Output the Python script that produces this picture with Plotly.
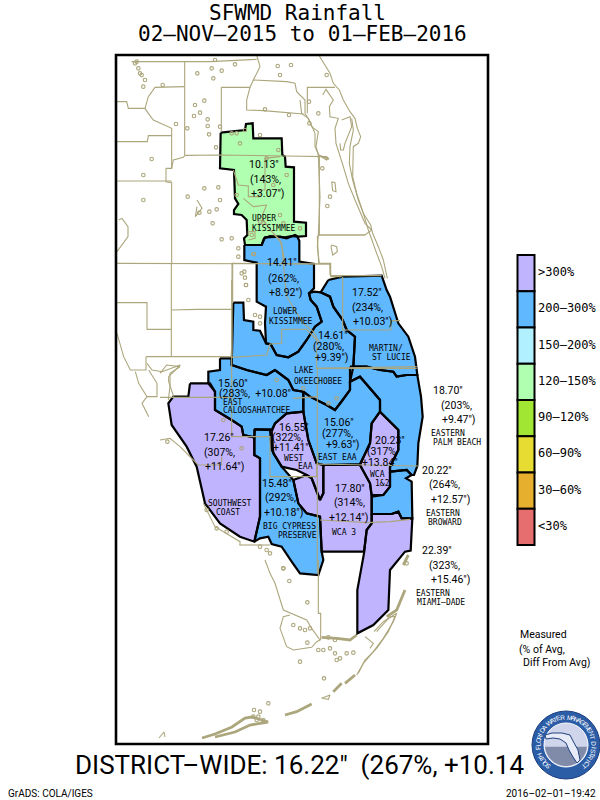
import math
import plotly.graph_objects as go

# ---------- colours ----------
PURPLE = "#c0b4ff"; BLUE = "#60b8ff"; GREEN = "#b0ffb0"; TAN = "#aca67c"
MONO = "DejaVu Sans Mono"; SANS = "Roboto"

# ---------- legend ----------
legend_labels = ["&gt;300%", "200–300%", "150–200%", "120–150%", "90–120%", "60–90%", "30–60%", "&lt;30%"]
legend_colors = [PURPLE, BLUE, "#b0f0ff", GREEN, "#a0e632", "#e6dc32", "#e6af2d", "#e66e6e"]

# ---------- region polygons (crop-relative units) ----------
def c1(p): return [(160 + x / 3, 110 + y / 3) for x, y in p]
def c2(p): return [(160 + x / 3, 360 + y / 3) for x, y in p]
def c5(p): return [(110 + x / 3, 50 + y / 3) for x, y in p]
def c6(p): return [(300 + x / 3, 50 + y / 3) for x, y in p]
def c7(p): return [(112 + x / 3, 200 + y / 3) for x, y in p]
def c8(p): return [(250 + x / 3, 560 + y / 3) for x, y in p]

upper_kissimmee = c5([(332,248),(405,240),(408,222),(428,220),(430,265),(515,265),(517,315),(525,320),(527,350),(552,352),(552,515),(588,518),(588,558),(565,560),(555,555),(530,565),(510,560),(490,560),(465,562),(455,585),(430,585),(405,585),(402,565),(412,555),(410,510),(395,495),(372,492),(372,480),(385,462),(375,445),(372,360),(330,355)])
lower_kissimmee = c1([(253,405),(305,405),(312,385),(330,378),(350,380),(375,382),(395,378),(412,380),(418,392),(418,455),(462,462),(462,535),(447,550),(452,570),(470,590),(485,635),(465,650),(440,690),(415,725),(385,742),(350,735),(332,703),(318,700),(315,640),(318,590),(290,575),(290,458),(253,450)])
lake_okeechobee = c1([(220,578),(250,578),(252,630),(280,635),(280,660),(300,662),(318,700),(332,703),(350,735),(385,742),(415,725),(440,690),(465,650),(485,635),(470,590),(452,570),(447,550),(462,545),(482,547),(510,560),(520,590),(548,630),(560,660),(585,680),(580,770),(572,800),(570,815),(570,840),(545,875),(525,900),(500,885),(450,860),(430,845),(400,840),(385,810),(345,780),(320,795),(260,780),(215,765)])
martin = c1([(505,510),(548,500),(665,497),(680,540),(690,560),(715,640),(745,680),(765,740),(772,795),(740,795),(710,800),(700,785),(660,780),(620,770),(580,770),(585,680),(560,660),(548,630),(520,590),(510,560),(482,547)])
caloosahatchee = c2([(180,-5),(215,-5),(215,15),(260,30),(320,45),(345,30),(385,60),(400,90),(430,95),(430,155),(380,160),(345,190),(335,210),(285,208),(283,232),(250,225),(245,200),(215,180),(165,150),(165,95),(145,70),(145,35),(180,30)])
east_eaa = c2([(430,95),(450,110),(500,135),(525,150),(545,125),(570,90),(570,65),(600,50),(660,120),(660,155),(635,190),(630,250),(600,312),(490,315),(470,310),(445,240),(430,155)])
palm_beach = c2([(570,20),(620,20),(660,30),(700,35),(710,50),(740,45),(772,45),(783,110),(788,170),(775,250),(772,318),(762,345),(755,345),(740,330),(690,335),(690,320),(715,270),(715,210),(660,155),(660,120),(600,50),(570,65)])
broward = c2([(690,335),(740,330),(755,345),(738,355),(755,365),(757,475),(725,475),(715,455),(695,462),(635,462),(635,410),(670,405),(690,380)])
big_cypress = c2([(283,208),(330,208),(335,270),(365,320),(400,360),(415,430),(440,460),(480,470),(485,575),(490,600),(475,645),(420,640),(395,605),(365,560),(335,552),(325,530),(300,535),(283,545),(300,470),(300,295),(283,285)])
southwest_coast = c2([(90,70),(150,70),(165,95),(165,150),(215,180),(245,200),(250,225),(283,232),(283,285),(300,295),(300,470),(283,545),(240,530),(180,490),(135,430),(110,320),(80,260),(35,195),(25,130),(40,110),(85,110)])
west_eaa = c2([(335,215),(345,190),(380,160),(430,155),(445,240),(470,310),(490,315),(490,400),(480,420),(470,395),(455,355),(440,345),(410,330),(365,320),(340,280)])
wca3 = c2([(400,360),(440,345),(455,355),(470,395),(480,420),(490,400),(490,315),(600,315),(630,370),(635,410),(635,490),(620,510),(612,575),(485,575),(480,470),(440,460),(415,430)])
wca12 = c2([(660,155),(715,210),(715,270),(690,320),(690,380),(670,405),(635,405),(630,370),(600,315),(630,250),(635,190)])
miami_dade = c2([(635,462),(695,462),(715,455),(725,475),(757,475),(752,572),(735,575),(690,630),(685,750),(640,795),(592,820),(592,690),(612,580),(620,510),(635,490)])

regions = [
    (upper_kissimmee, GREEN), (lower_kissimmee, BLUE), (lake_okeechobee, BLUE), (martin, BLUE),
    (caloosahatchee, BLUE), (east_eaa, BLUE), (palm_beach, BLUE), (broward, BLUE), (big_cypress, BLUE),
    (southwest_coast, PURPLE), (west_eaa, PURPLE), (wca3, PURPLE), (wca12, PURPLE), (miami_dade, PURPLE),
]

# ---------- county lines / coast ----------
thin_lines = (
    [c5(l) for l in [
        [(168,355),(185,355),(190,330),(220,322),(225,316),(330,315),(525,318),(628,318),(650,320),(657,328),(630,318)],
        [(168,355),(168,395),(185,398),(185,640)],
        [(18,640),(660,642),(660,675)],
        [(628,318),(628,555),(622,560),(626,640)],
        [(628,555),(765,555)],
        [(224,35),(224,315)],
        [(334,112),(334,245)],
        [(334,112),(420,112),(430,90),(530,95),(555,100),(560,125),(585,150),(585,190),(600,215),(615,250),(615,290),(628,318)],
        [(420,112),(410,150),(410,180),(460,182),(580,192)],
        [(18,155),(50,155),(55,175),(105,175),(115,190),(130,210),(185,235),(185,355)],
        [(18,275),(112,275),(115,257),(185,257)],
        [(18,393),(185,393)],
        [(65,35),(224,35),(300,35),(440,28)],
        [(105,175),(115,140),(135,112),(224,110)],
        [(440,15),(450,50),(430,90)],
        [(370,360),(385,405),(415,408),(415,440),(450,440),(450,420),(465,420),(465,325),(510,320)],
        [(400,445),(430,470),(470,465),(455,500),(480,540),(510,570),(520,610),(525,640)],
        [(415,555),(415,545),(435,545),(435,565),(415,570)],
    ]]
    + [c6(l) for l in [
        [(58,18),(75,45),(90,70),(100,100),(118,120),(130,150),(150,185),(165,205),(172,235),(182,260),(175,280),(160,290),(158,380),(170,430),(190,490),(212,525),(218,550),(235,590),(250,630),(262,685)],
        [(68,135),(78,118),(100,150),(88,170),(90,200),(115,205),(105,235),(108,280),(130,350),(145,400),(165,450),(195,520),(215,540)],
        [(125,210),(150,200),(155,230),(135,280),(130,300),(122,300),(120,280)],
        [(155,205),(160,240),(150,290),(148,340),(158,390),(175,450),(190,490),(205,540),(230,610),(245,650),(255,685)],
        [(22,190),(22,112),(105,112)],
        [(0,150),(5,190),(25,205),(35,230),(55,245),(48,290),(55,315),(85,325),(80,330),(55,315)],
        [(55,315),(60,440),(55,555),(52,590),(58,640),(92,640),(92,680),(125,680)],
        [(55,555),(195,555),(215,540)],
        [(95,395),(105,398),(108,425),(98,422),(95,395)],
        [(95,585),(110,590),(112,605),(98,615),(93,590),(95,585)],
    ]]
    + [c7(l) for l in [
        [(178,188),(178,470)],
        [(178,330),(255,328),(360,328)],
        [(12,308),(105,308),(105,388),(178,388)],
        [(360,188),(360,470)],
        [(102,470),(360,470)],
        [(102,470),(102,510),(55,510),(35,470),(15,400)],
        [(105,490),(120,510),(150,515),(205,495),(170,530),(170,545),(185,590)],
        [(70,515),(80,550),(105,590),(135,590),(135,550),(110,510)],
        [(20,60),(30,55),(48,80),(48,110),(15,155)],
        [(105,590),(90,610),(110,650)],
        [(255,0),(270,25),(250,50),(255,20)],
    ]]
    + [c1(l) for l in [
        [(217,460),(460,460),(510,462),(512,497),(665,497)],
        [(218,460),(218,578)],
        [(548,500),(548,660),(692,660),(695,632),(720,632)],
        [(365,658),(440,658)],
        [(365,658),(365,700),(330,702),(320,735),(215,742)],
        [(440,658),(470,690),(470,775),(770,770)],
        [(340,370),(365,400),(370,460),(380,560),(430,640),(460,665),(480,700)],
    ]]
    + [c2(l) for l in [
        [(472,25),(472,640)],
        [(215,-240),(215,230),(330,230),(330,350),(470,350),(470,312),(775,318)],
        [(480,480),(625,488),(690,485),(750,478)],
        [(472,25),(770,25)],
        [(400,115),(472,110)],
        [(0,112),(215,112)],
        [(185,290),(185,315),(115,315)],
        [(238,555),(330,555)],
        [(0,40),(20,15),(60,20),(30,40),(30,80),(25,120)],
        [(0,240),(30,235),(60,260),(115,315)],
        [(130,430),(165,500),(240,545),(240,555)],
    ]]
    + [c8(l) for l in [
        [(45,0),(60,40),(75,70),(85,100),(100,150),(170,180),(185,205),(210,240),(200,245),(185,262),(130,270),(110,260),(90,205),(100,170),(120,165)],
        [(205,0),(205,160),(212,160),(212,240)],
        [(345,230),(370,250),(360,265)],
        [(372,215),(400,185),(440,160),(430,185),(400,235),(370,275),(340,310),(320,345)],
        [(380,215),(420,170),(435,170),(415,215),(380,265),(345,300),(325,340)],
        [(215,415),(240,405),(235,418),(215,415)],
    ]]
    + [[(159,738),(164,732),(165,737)]]
)
thick_lines = (
    [c8(l) for l in [
        [(215,232),(260,235),(300,240),(320,225)],
        [(285,370),(315,345)],
        [(250,395),(275,370)],
        [(105,465),(140,455),(185,432)],
        [(410,170),(440,150),(465,90)],
    ]]
    + [[(202,738),(215,734),(232,727),(245,718),(252,717),(268,722),(250,725),(235,732),(215,737)]]
    + [c2([(730,615),(745,585)])]
)

# ---------- small lakes and islands ----------
lakes = (
    c5([(75,40),(85,55),(95,75),(105,90),(100,110),(80,35),(90,70),(158,105),(262,70),(305,55),(310,85),(335,62),(375,43),(315,30),(503,48),(543,45),(510,75),(255,165),(283,152),(270,188),(252,198),(293,208),(293,228),(232,235),(297,253),(330,230),(198,222),(125,327),(100,375),(100,450),(233,440),(283,415),(325,412),(330,450),(268,488),(298,485),(320,478),(308,520),(335,568),(365,565),(385,595),(385,620),(432,612),(403,665),(408,705),(405,683),(380,250),(405,240),(390,280),(450,255),(505,300),(318,292),(465,178),(537,195),(598,220),(625,190),(637,355),(660,440),(652,468),(597,155),(650,75),(365,250),(530,375),(490,405),(380,435),(425,555),(510,495),(520,520),(460,520),(450,515),(570,535),(470,325)])
    + c1([(258,525),(265,570),(285,615),(300,640),(300,620),(280,432),(245,490)])
    + c2([(350,60),(530,115),(505,130),(430,85),(22,245),(170,505),(200,515),(300,560),(320,570),(330,580),(370,625),(190,180),(245,265),(140,450)])
    + c8([(100,25),(118,63),(172,127),(150,305),(222,355),(260,300),(270,295),(290,280),(310,278),(205,270),(220,270),(240,265),(255,280),(150,205),(165,210),(180,205),(130,195),(172,248),(235,232),(255,240),(12,450),(25,470),(40,480),(10,470),(55,430),(470,10),(20,480),(30,455)])
)

# ---------- text labels ----------
value_labels = [
    (264,164,'10.13"'),(265,179,'(143%,'),(267,193,'+3.07")'),
    (282,262,'14.41"'),(283,278,'(262%,'),(285,292,'+8.92")'),
    (367,292,'17.52"'),(367,307,'(234%,'),(372,321,'+10.03")'),
    (333,335,'14.61"'),(328,346,'(280%,'),(331,357,'+9.39")'),
    (233,383,'15.60"'),(255,393,'(283%,  +10.08"'),
    (294,427,'16.55"'),(287,437,'(322%,'),(291,447,'+11.41"'),
    (339,422,'15.06"'),(337,433,'(277%,'),(342,444,'+9.63")'),
    (390,440,'20.23"'),(381,451,'(317%'),(380,462,'+13.84"'),
    (219,437,'17.26"'),(219,452,'(307%,'),(224,466,'+11.64")'),
    (277,483,'15.48"'),(280,497,'(292%,'),(283,512,'+10.18")'),
    (350,488,'17.80"'),(349,502,'(314%,'),(348,517,'+12.14")'),
    (448,390,'18.70"'),(456,405,'(203%,'),(458,419,'+9.47")'),
    (437,470,'20.22"'),(444,484,'(264%,'),(450,499,'+12.57")'),
    (437,550,'22.39"'),(444,565,'(323%,'),(450,579,'+15.46")'),
]
name_labels = [
    (264,218,'UPPER'),(274,228,'KISSIMMEE'),(285,311,'LOWER'),(291,321,'KISSIMMEE'),
    (386,348,'MARTIN/'),(391,357,'ST LUCIE'),(303,370,'LAKE'),(318,381,'OKEECHOBEE'),
    (232,402,'EAST'),(257,410,'CALOOSAHATCHEE'),(293,458,'WEST'),(305,466,'EAA'),
    (337,457,'EAST EAA'),(377,474,'WCA'),(382,483,'1&amp;2'),(230,503,'SOUTHWEST'),(228,512,'COAST'),
    (289,526,'BIG CYPRESS'),(297,535,'PRESERVE'),(344,532,'WCA 3'),
    (448,433,'EASTERN'),(457,442,'PALM BEACH'),(443,513,'EASTERN'),(445,522,'BROWARD'),
    (433,593,'EASTERN'),(441,602,'MIAMI–DADE'),
]
note_labels = [(519,634,'Measured'),(518,649,'(% of Avg,'),(522,662,'Diff From Avg)')]
title_lines = [(297.5,13,'SFWMD Rainfall'),(302.5,34,'02–NOV–2015 to 01–FEB–2016')]
district_text = 'DISTRICT–WIDE: 16.22"  (267%, +10.14'
credit_text = 'GrADS: COLA/IGES'
stamp_text = '2016–02–01–19:42'
seal_text = 'SOUTH FLORIDA WATER MANAGEMENT DISTRICT'
florida_outline = [(545,735),(552,733),(562,733),(570,735),(573,741),(578,750),(580,760),(577,763),(573,757),(569,750),(566,743),(560,739),(553,738),(546,739)]

# ---------- figure ----------
fig = go.Figure()

def add_path(pts, **kw):
    fig.add_trace(go.Scatter(x=[p[0] for p in pts], y=[p[1] for p in pts], hoverinfo="skip", showlegend=False, **kw))

for poly, color in regions:
    add_path(poly + poly[:1], mode="none", fill="toself", fillcolor=color)
for poly, color in regions:
    add_path(poly + poly[:1], mode="lines", line=dict(color="black", width=2.2))
for l in thin_lines:
    add_path(l, mode="lines", line=dict(color=TAN, width=1.1))
for l in thick_lines:
    add_path(l, mode="lines", line=dict(color=TAN, width=2.8))
add_path(lakes, mode="markers", marker=dict(symbol="circle-open", size=3.5, color=TAN, line=dict(color=TAN, width=1.1)))

shapes = [dict(type="rect", x0=116, x1=488, y0=55, y1=744, line=dict(color="black", width=2.6), fillcolor="rgba(0,0,0,0)", layer="above")]
ann = []

def text(x, y, s, font, size, anchor="center", color="black", angle=0):
    ann.append(dict(x=x, y=y, text=s, showarrow=False, xanchor=anchor, yanchor="middle", borderpad=0,
                    textangle=angle, font=dict(family=font, size=size, color=color)))

# legend boxes
box_h = 36.25
for i, (lab, col) in enumerate(zip(legend_labels, legend_colors)):
    y0 = 255 + i * box_h
    shapes.append(dict(type="rect", x0=517.5, x1=534.5, y0=y0, y1=y0 + box_h, fillcolor=col, line=dict(color="black", width=2)))
    text(537, y0 + box_h / 2 - 1, lab, MONO, 12, "left")

for x, y, s in value_labels:
    text(x, y, s, SANS, 10.5)
for x, y, s in name_labels:
    text(x, y, s, MONO, 8)
for x, y, s in note_labels:
    text(x, y, s, SANS, 10.5, "left")
for x, y, s in title_lines:
    text(x, y, s, MONO, 21)
text(299, 765, district_text, SANS, 26)
text(7, 793, credit_text, SANS, 10, "left")
text(597, 793, stamp_text, SANS, 10, "right")

# seal
cx, cy = 566, 745
shapes += [
    dict(type="circle", x0=cx-34, x1=cx+34, y0=cy-34, y1=cy+34, fillcolor="#2b5ca6", line=dict(color="#1d3f80", width=1), layer="below"),
    dict(type="circle", x0=cx-22, x1=cx+22, y0=cy-22, y1=cy+22, fillcolor="#cfd5ea", line=dict(color="white", width=1), layer="below"),
]
seg = [(cx + 21 * math.cos(a * math.pi / 180), cy + 21 * math.sin(a * math.pi / 180)) for a in range(5, 176, 10)]
add_path(seg + seg[:1], mode="none", fill="toself", fillcolor="#7f8ba8")
add_path(florida_outline + florida_outline[:1], mode="lines", fill="toself", fillcolor="#e8ecf8", line=dict(color="#20407f", width=1))
n = len(seal_text)
for i, ch in enumerate(seal_text):
    a = -140 + i * 280 / (n - 1)   # degrees clockwise from the top
    r = a * math.pi / 180
    text(cx + 28 * math.sin(r), cy - 28 * math.cos(r), ch, "Liberation Sans", 6.5, color="white", angle=a)

fig.update_layout(
    width=600, height=800, margin=dict(l=0, r=0, t=0, b=0),
    paper_bgcolor="white", plot_bgcolor="white", shapes=shapes, annotations=ann, showlegend=False,
    xaxis=dict(range=[0, 600], visible=False, fixedrange=True),
    yaxis=dict(range=[800, 0], visible=False, fixedrange=True),
)
fig.write_html("out.html", config=dict(displayModeBar=False),
               post_script="document.body.style.margin='0';document.body.style.overflow='hidden';")
